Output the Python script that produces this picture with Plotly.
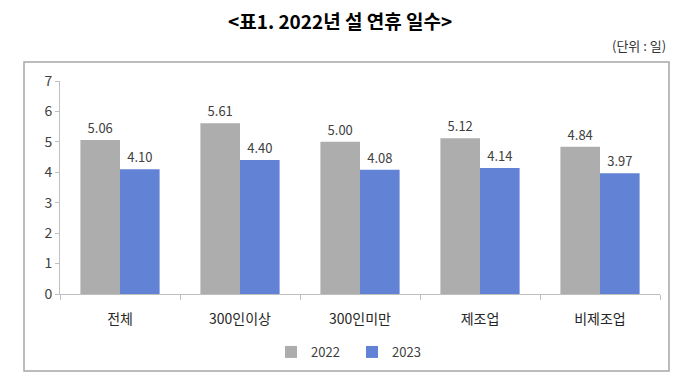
import plotly.graph_objects as go

categories = ["전체", "300인이상", "300인미만", "제조업", "비제조업"]
values_2022 = [5.06, 5.61, 5.00, 5.12, 4.84]
values_2023 = [4.10, 4.40, 4.08, 4.14, 3.97]
series_names = ["2022", "2023"]
title_text = "&lt;표1. 2022년 설 연휴 일수&gt;"
unit_text = "(단위 : 일)"

FONT = "Noto Sans CJK KR"
GRAY = "#ADADAD"
BLUE = "#6282D6"

fig = go.Figure()
fig.add_trace(go.Bar(
    x=categories, y=values_2022, name=series_names[0],
    marker=dict(color=GRAY, line=dict(width=0)),
    text=[f"{v:.2f}" for v in values_2022], textposition="outside",
    textfont=dict(size=13, color="#404040", family=FONT),
    cliponaxis=False,
))
fig.add_trace(go.Bar(
    x=categories, y=values_2023, name=series_names[1],
    marker=dict(color=BLUE, line=dict(width=0)),
    text=[f"{v:.2f}" for v in values_2023], textposition="outside",
    textfont=dict(size=13, color="#404040", family=FONT),
    cliponaxis=False,
))

L, R, T, B = 60, 20, 81, 86
W, H = 680, 380
pw, ph = W - L - R, H - T - B

def px_x(x):
    return (x - L) / pw

def px_y(y):
    return (H - B - y) / ph

fig.update_layout(
    width=W, height=H,
    margin=dict(l=L, r=R, t=T, b=B),
    paper_bgcolor="white", plot_bgcolor="white",
    font=dict(family=FONT, size=13, color="#404040"),
    barmode="group", bargap=0.34, bargroupgap=0,
    showlegend=True,
    legend=dict(orientation="h", x=px_x(352), xanchor="center",
                y=px_y(352), yanchor="middle",
                font=dict(size=13, color="#404040", family=FONT),
                itemwidth=30, entrywidth=36, traceorder="normal"),
    xaxis=dict(showline=True, linecolor="#BFBFBF", linewidth=1,
               ticks="outside", tickson="boundaries", ticklen=5, tickcolor="#BFBFBF",
               ticklabelstandoff=12,
               tickfont=dict(size=14, color="#262626", family=FONT),
               showgrid=False, zeroline=False),
    yaxis=dict(range=[0, 7], dtick=1, showline=True, linecolor="#BFBFBF", linewidth=1,
               ticks="outside", ticklen=4, tickcolor="#BFBFBF",
               tickfont=dict(size=14, color="#404040", family=FONT),
               showgrid=False, zeroline=False),
    shapes=[dict(type="rect", xref="paper", yref="paper",
                 x0=px_x(24), x1=px_x(669), y0=px_y(371), y1=px_y(62),
                 line=dict(color="#A6A6A6", width=1.5), fillcolor="rgba(0,0,0,0)",
                 layer="below")],
    annotations=[
        dict(text="<b>" + title_text + "</b>", xref="paper", yref="paper",
             x=px_x(340), y=px_y(20), xanchor="center", yanchor="middle",
             showarrow=False, font=dict(size=19, color="#000000", family=FONT)),
        dict(text=unit_text, xref="paper", yref="paper",
             x=px_x(668), y=px_y(45), xanchor="right", yanchor="middle",
             showarrow=False, font=dict(size=13, color="#333333", family=FONT)),
    ],
)

fig.write_html("out.html", config={"displayModeBar": False},
               post_script="document.body.style.margin='0';document.body.style.overflow='hidden';")
